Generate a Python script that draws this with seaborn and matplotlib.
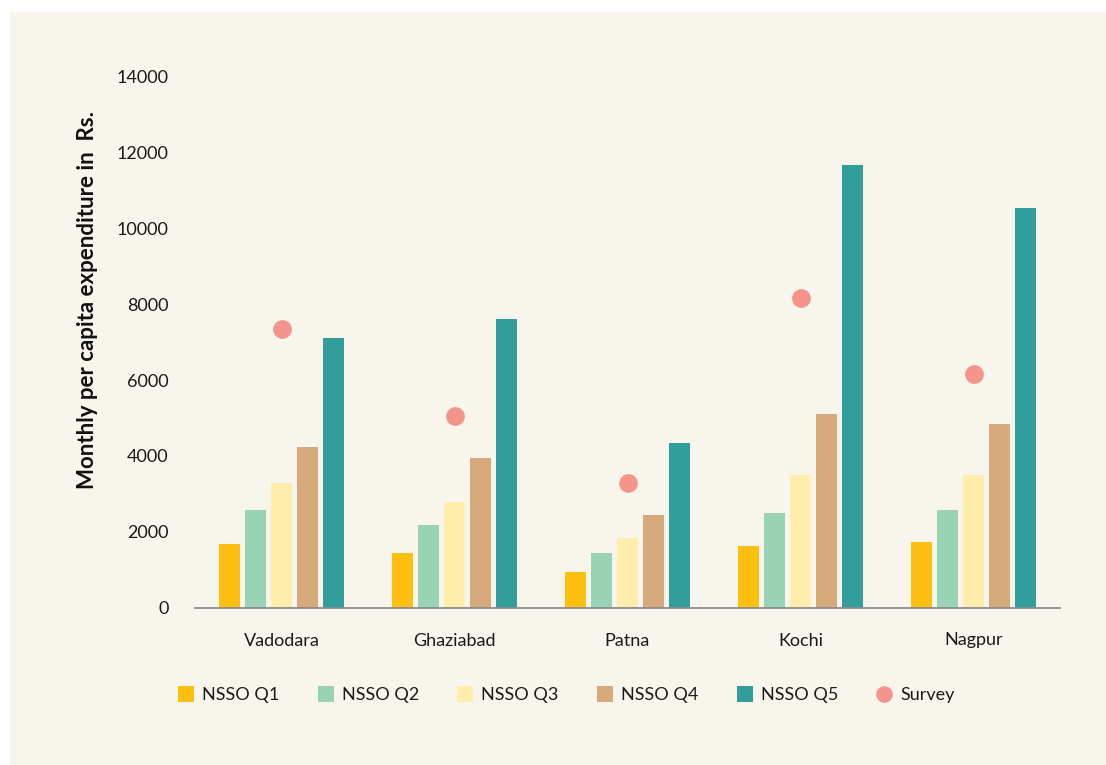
import matplotlib
matplotlib.use("Agg")
import matplotlib.pyplot as plt
from matplotlib.patches import Rectangle
from matplotlib.lines import Line2D
import seaborn as sns
import pandas as pd

cities = ["Vadodara", "Ghaziabad", "Patna", "Kochi", "Nagpur"]
series_names = ["NSSO Q1", "NSSO Q2", "NSSO Q3", "NSSO Q4", "NSSO Q5"]
q1 = [1675, 1446, 945, 1615, 1720]
q2 = [2565, 2169, 1446, 2502, 2565]
q3 = [3285, 2784, 1842, 3496, 3496]
q4 = [4235, 3945, 2449, 5114, 4833]
q5 = [7111, 7612, 4332, 11667, 10549]
survey = [7340, 5061, 3285, 8166, 6169]
y_ticks = [0, 2000, 4000, 6000, 8000, 10000, 12000, 14000]

colors = ["#FDC010", "#98D3B6", "#FFEDAB", "#D6A97A", "#319E9B"]
survey_color = "#F4948A"
bg = "#F8F6EC"

rows = []
for name, vals in zip(series_names, [q1, q2, q3, q4, q5]):
    for c, v in zip(cities, vals):
        rows.append({"City": c, "Series": name, "Value": v})
df = pd.DataFrame(rows)

sns.set_theme(style="white")
plt.rcParams["font.family"] = ["Lato", "DejaVu Sans"]

fig = plt.figure(figsize=(11.06, 7.65), dpi=100, facecolor="white")
fig.add_artist(Rectangle((10 / 1106, 0), 1 - 10 / 1106, 1 - 12 / 765,
                         transform=fig.transFigure, facecolor=bg,
                         edgecolor="none", zorder=-10))

ax = fig.add_axes([195 / 1106, 1 - 607.5 / 765, 865 / 1106, 530.8 / 765])
ax.set_zorder(1)
ax.patch.set_alpha(0)

sns.barplot(data=df, x="City", y="Value", hue="Series", order=cities,
            hue_order=series_names, palette=colors, width=0.75, gap=0.2,
            saturation=1, linewidth=0, legend=False, ax=ax)
sns.stripplot(x=cities, y=survey, jitter=False, color=survey_color, size=13.5,
              linewidth=0, ax=ax, zorder=5)

ax.set_xlim(-0.5, 4.5)
ax.set_ylim(0, 14000)
ax.set_yticks(y_ticks)
ax.set_yticklabels([str(t) for t in y_ticks])
ax.tick_params(axis="y", length=0, pad=19, labelsize=13, labelcolor="#1a1a1a")
ax.tick_params(axis="x", length=0, pad=18, labelsize=13, labelcolor="#1a1a1a")
ax.set_xlabel("")
ax.set_ylabel("Monthly per capita expenditure in  Rs.", fontsize=16,
              fontweight="bold", color="#111111")
ax.yaxis.label.set_va("center")
ax.yaxis.set_label_coords(-0.1237, 0.579)

for s in ["top", "right", "left"]:
    ax.spines[s].set_visible(False)
ax.spines["bottom"].set_color("#8c8c8c")
ax.spines["bottom"].set_linewidth(1.3)

handles = [Line2D([], [], marker="s", linestyle="none", markersize=12,
                  markerfacecolor=c, markeredgewidth=0) for c in colors]
handles.append(Line2D([], [], marker="o", linestyle="none", markersize=12,
                      markerfacecolor=survey_color, markeredgewidth=0))
fig.legend(handles, series_names + ["Survey"], loc="center",
           bbox_to_anchor=(566 / 1106, 1 - 695 / 765), ncol=6, frameon=False,
           fontsize=13, handlelength=1.0, handletextpad=0.4, columnspacing=2.05,
           labelcolor="#1a1a1a")

fig.savefig("out.png", dpi=100, facecolor="white")
